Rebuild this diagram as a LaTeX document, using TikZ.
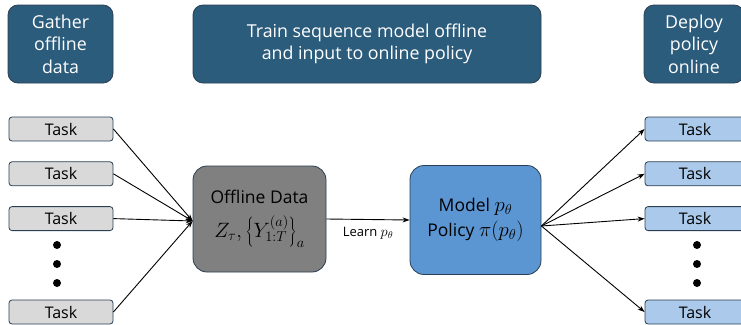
\documentclass[tikz,border=0pt]{standalone}
\usepackage{fontspec}
\setmainfont{Open Sans}
\usetikzlibrary{positioning}
\usetikzlibrary{arrows.meta}

\definecolor{headblue}{HTML}{2C5C7C}
\definecolor{datagray}{HTML}{808080}
\definecolor{modelblue}{HTML}{5B96D2}
\definecolor{taskgray}{HTML}{D9D9D9}
\definecolor{tasklight}{HTML}{ABC9EA}
\definecolor{edgedark}{HTML}{2A3F52}

\newcommand{\bigmath}[1]{{\fontsize{20}{24}\selectfont$#1$}}

\tikzset{
  header/.style={draw=edgedark, thick, fill=headblue, rounded corners=10pt, text=white, align=center,
    minimum height=78pt, inner sep=0pt, font=\fontsize{17.8}{22.5}\selectfont},
  task/.style={draw=edgedark, thick, rounded corners=3pt, minimum height=24pt, inner sep=0pt,
    font=\fontsize{16}{18}\selectfont},
  big/.style={draw=edgedark, thick, rounded corners=14pt, align=center, inner sep=0pt,
    font=\fontsize{17.5}{25}\selectfont},
  dot/.style={circle, fill=black, inner sep=0pt, minimum size=8pt},
  link/.style={line width=0.9pt, -{Stealth[length=7pt, width=5pt]}}
}

\begin{document}
\begin{tikzpicture}[x=1pt, y=-1pt]
  \useasboundingbox (0,0) rectangle (741,324);

  % headers
  \node[header, minimum width=105pt] (gather) at (60.5,44) {Gather\\offline\\data};
  \node[header, minimum width=348pt] (train) at (367,44) {Train sequence model offline\\and input to online policy};
  \node[header, minimum width=100pt] (deploy) at (694,44) {Deploy\\policy\\online};

  % offline tasks
  \node[task, fill=taskgray, minimum width=104pt] (in1) at (61,129) {Task};
  \node[task, fill=taskgray, minimum width=104pt, below=20pt of in1] (in2) {Task};
  \node[task, fill=taskgray, minimum width=104pt, below=20pt of in2] (in3) {Task};
  \node[task, fill=taskgray, minimum width=104pt] (in4) at (61,312) {Task};
  \foreach \y in {245,264,283} \node[dot] at (57,\y) {};

  % middle boxes
  \node[big, fill=datagray, minimum width=133pt, minimum height=106pt] (data) at (259.5,219)
    {Offline Data\\[9pt] \bigmath{Z_\tau,\left\{Y^{(a)}_{1:T}\right\}_a}};
  \node[big, fill=modelblue, minimum width=131pt, minimum height=109pt] (model) at (475.5,220)
    {Model \bigmath{p_\theta}\\Policy \bigmath{\pi(p_\theta)}};
  \coordinate (join) at ([yshift=-2pt]data.west);

  % online tasks
  \node[task, fill=tasklight, minimum width=100pt] (out1) at (695,129) {Task};
  \node[task, fill=tasklight, minimum width=100pt, below=20pt of out1] (out2) {Task};
  \node[task, fill=tasklight, minimum width=100pt, below=20pt of out2] (out3) {Task};
  \node[task, fill=tasklight, minimum width=100pt] (out4) at (695,312) {Task};
  \foreach \y in {245,264,283} \node[dot] at (697,\y) {};

  \foreach \t in {in1,in2,in3,in4} \draw[link] (\t.east) -- (join);
  \draw[link] (data.east) -- node[below=4pt, font=\fontsize{13}{15}\selectfont] {Learn \bigmath{\scriptstyle p_\theta}} (model.west);
  \foreach \t in {out1,out2,out3,out4} \draw[link] ([yshift=-6pt]model.east) -- (\t.west);
\end{tikzpicture}
\end{document}
